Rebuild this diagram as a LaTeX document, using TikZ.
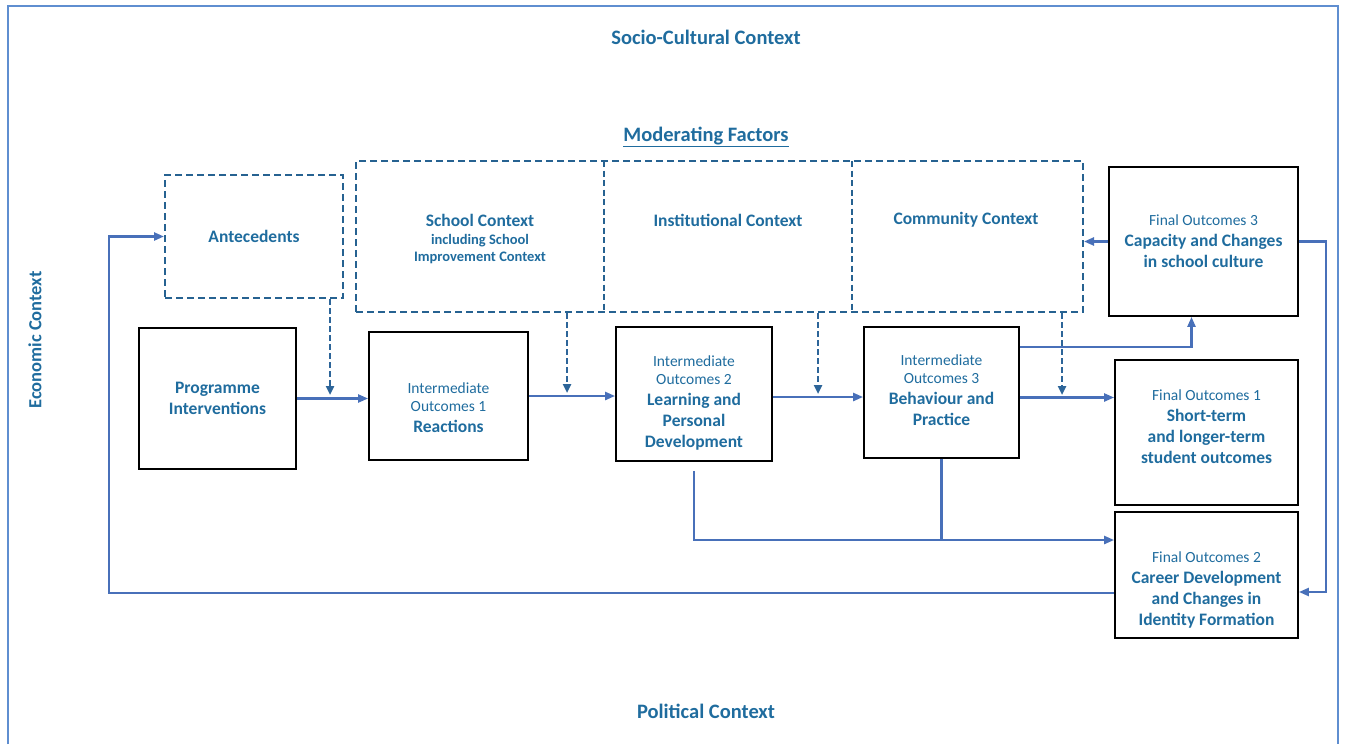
\documentclass[tikz,border=0pt]{standalone}
\usepackage{fontspec}
\setmainfont{Carlito}
\usetikzlibrary{arrows.meta}

\definecolor{ctxblue}{RGB}{31,108,158}
\definecolor{dashblue}{RGB}{38,98,145}
\definecolor{lineblue}{RGB}{72,112,185}
\definecolor{frameblue}{RGB}{95,142,208}

% small regular lines inside the outcome boxes
\newcommand{\lite}{\mdseries\fontsize{15.5}{18}\selectfont}

\begin{document}
\begin{tikzpicture}[x=1pt,y=-1pt,
  ctx/.style={text=ctxblue,font=\bfseries\fontsize{17.5}{21}\selectfont,align=center,inner sep=1pt},
  ttl/.style={ctx,font=\bfseries\fontsize{20.5}{24}\selectfont},
  note/.style={ctx,font=\lite},
  box/.style={draw=black,line width=1.8pt,inner sep=0pt},
  modbox/.style={draw=dashblue,line width=2pt,dash pattern=on 7pt off 4pt,inner sep=0pt},
  flow/.style={draw=lineblue,line width=2.3pt,-{Triangle[length=10pt,width=8pt]}},
  link/.style={draw=lineblue,line width=2.3pt},
  modflow/.style={draw=dashblue!80!lineblue,line width=2.3pt,dash pattern=on 6pt off 3pt,-{Triangle[length=9pt,width=8pt]}}]
  \useasboundingbox (0,0) rectangle (1346,744);

  % outer frame, open at the bottom
  \draw[frameblue,line width=1.5pt] (8,744) -- (8,6) -- (1338,6) -- (1338,744);

  % surrounding contexts
  \node[ttl] (socio) at (706,37) {Socio-Cultural Context};
  \node[ttl] (modfac) at (706,137) {\underline{Moderating Factors}};
  \node[ttl,font=\bfseries\fontsize{18.5}{22}\selectfont,rotate=90] (econ) at (35,340) {Economic Context};
  \node[ttl] (polit) at (706,711) {Political Context};

  % moderating factors
  \node[modbox,ctx,inner sep=0pt,minimum width=178pt,minimum height=123pt] (ante) at (254,236.5) {Antecedents};
  \node[modbox,minimum width=727pt,minimum height=151pt] (mod) at (719.5,236.5) {};
  \draw[dashblue,line width=1.3pt,dash pattern=on 6pt off 3.5pt] (604,161) -- (604,312) (852,161) -- (852,312);
  \node[ctx] (school) at (480,220) {School Context};
  \node[note,font=\bfseries\fontsize{14.5}{17}\selectfont] (incl) at (480,249) {including School\\Improvement Context};
  \node[ctx] (inst) at (728,220) {Institutional Context};
  \node[ctx] (comm) at (966,220) {Community Context};

  % programme and intermediate outcomes
  \node[box,ctx,inner sep=0pt,minimum width=157pt,minimum height=141pt] (prog) at (217.5,398.5) {Programme\\Interventions};
  \node[box,minimum width=159pt,minimum height=128pt] (io1) at (448.5,396) {};
  \node[ctx] (io1-t) at (448.5,407.5) {{\lite Intermediate}\\[-3pt]{\lite Outcomes 1}\\Reactions};
  \node[box,minimum width=156pt,minimum height=134pt] (io2) at (694,394) {};
  \node[ctx] (io2-t) at (694,402.5) {{\lite Intermediate}\\[-3pt]{\lite Outcomes 2}\\Learning and\\Personal\\Development};
  \node[box,minimum width=155pt,minimum height=131pt] (io3) at (941.5,392.5) {};
  \node[ctx] (io3-t) at (941.5,390) {{\lite Intermediate}\\[-3pt]{\lite Outcomes 3}\\Behaviour and\\Practice};

  % final outcomes
  \node[box,minimum width=189pt,minimum height=149pt] (fo3) at (1203.5,241.5) {};
  \node[ctx] (fo3-t) at (1203.5,241) {{\lite Final Outcomes 3}\\Capacity and Changes\\in school culture};
  \node[box,minimum width=183pt,minimum height=145pt] (fo1) at (1206.5,432.5) {};
  \node[ctx] (fo1-t) at (1206.5,426.5) {{\lite Final Outcomes 1}\\Short-term\\and longer-term\\student outcomes};
  \node[box,minimum width=183pt,minimum height=126pt] (fo2) at (1206.5,575) {};
  \node[ctx] (fo2-t) at (1206.5,589.5) {{\lite Final Outcomes 2}\\Career Development\\and Changes in\\Identity Formation};

  % main chain
  \draw[flow] (prog.east) -- (prog.east -| io1.west);
  \draw[flow] (io1.east) -- (io1.east -| io2.west);
  \draw[flow] ([yshift=-3pt]io2.east) -- ([yshift=-3pt]io2.east -| io3.west);
  \draw[flow] ([yshift=-5pt]io3.east) -- ([yshift=-5pt]io3.east -| fo1.west);

  % moderators acting on the chain
  \coordinate (d1) at (330,395);
  \coordinate (d2) at (567,393);
  \coordinate (d3) at (818,394);
  \coordinate (d4) at (1062,395);
  \draw[modflow] (ante.south -| d1) -- (d1);
  \draw[modflow] (mod.south -| d2) -- (d2);
  \draw[modflow] (mod.south -| d3) -- (d3);
  \draw[modflow] (mod.south -| d4) -- (d4);

  % branches to the final outcomes
  \draw[flow] ([yshift=-21pt]io3.north east) -| ([xshift=-12pt]fo3.south);
  \coordinate (fo2in) at ([yshift=35pt]fo2.west);
  \draw[flow] ([yshift=-9pt]io2.south) |- (fo2in);
  \draw[link] (io3.south) -- (io3.south |- fo2in);

  % feedback loops
  \draw[flow] (fo3.west) -- (fo3.west -| mod.east);
  \draw[flow] (fo3.east) -- ++(27,0) |- ([yshift=-17pt]fo2.east);
  \draw[flow] ([yshift=-18pt]fo2.west) -- ++(-1005,0) |- (ante.west);
\end{tikzpicture}
\end{document}
